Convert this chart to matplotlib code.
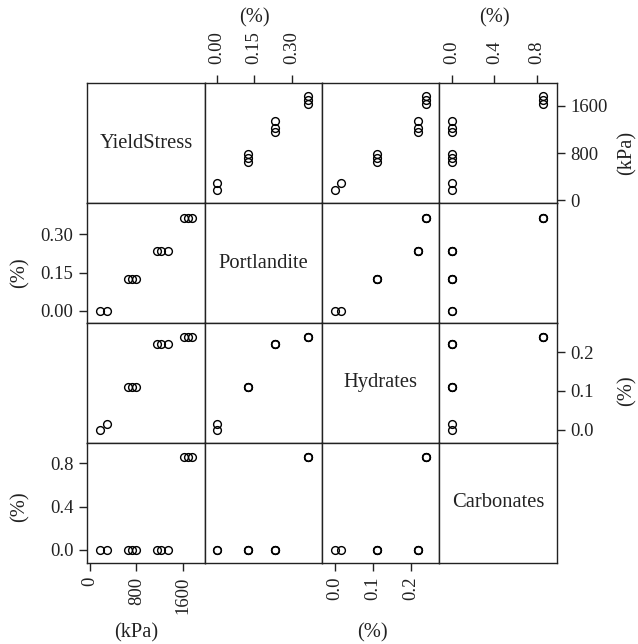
import matplotlib
matplotlib.use("Agg")
import matplotlib.pyplot as plt
from matplotlib.transforms import blended_transform_factory as blend

plt.rcParams['font.family'] = ['Liberation Serif', 'DejaVu Serif']

names = ["YieldStress", "Portlandite", "Hydrates", "Carbonates"]
yield_stress = [170, 290, 650, 720, 790, 1150, 1230, 1345, 1625, 1690, 1760]
portlandite = [0, 0, 0.125, 0.125, 0.125, 0.235, 0.235, 0.235, 0.365, 0.365, 0.365]
hydrates = [0, 0.015, 0.11, 0.11, 0.11, 0.22, 0.22, 0.22, 0.24, 0.24, 0.24]
carbonates = [0, 0, 0, 0, 0, 0, 0, 0, 0.86, 0.86, 0.86]
data = [yield_stress, portlandite, hydrates, carbonates]

limits = [(-45, 1980), (-0.048, 0.422), (-0.034, 0.275), (-0.12, 0.99)]
ticks = [[0, 800, 1600], [0.0, 0.15, 0.30], [0.0, 0.1, 0.2], [0.0, 0.4, 0.8]]
ticklabels = [["0", "800", "1600"], ["0.00", "0.15", "0.30"],
              ["0.0", "0.1", "0.2"], ["0.0", "0.4", "0.8"]]
units = ["(kPa)", "(%)", "(%)", "(%)"]

col = "#222222"
fig = plt.figure(figsize=(6.38, 6.44), dpi=100)
gs = fig.add_gridspec(4, 4, left=0.1368, right=0.8726, top=0.8707, bottom=0.1262,
                      hspace=0, wspace=0)

axes = [[fig.add_subplot(gs[i, j]) for j in range(4)] for i in range(4)]

for i in range(4):
    for j in range(4):
        ax = axes[i][j]
        ax.set_xlim(limits[j])
        ax.set_ylim(limits[i])
        ax.set_xticks([])
        ax.set_yticks([])
        for s in ax.spines.values():
            s.set_linewidth(1.0)
            s.set_color(col)
        if i == j:
            ax.text(0.5, 0.5, names[i], transform=ax.transAxes, ha="center",
                    va="center", fontsize=14.8, color=col)
        else:
            ax.plot(data[j], data[i], "o", mfc="none", mec="black",
                    ms=5.6, mew=1.0, ls="none")

tick_kw = dict(length=6, width=1.0, color=col, labelsize=13.5, labelcolor=col)

# top axes (cols 1, 3)
for j in (1, 3):
    ax = axes[0][j]
    ax.xaxis.tick_top()
    ax.set_xticks(ticks[j])
    ax.set_xticklabels(ticklabels[j], rotation=90)
    ax.tick_params(axis="x", pad=8, **tick_kw)
    ax.text(sum(ticks[j]) / 3, 0.9716, units[j], transform=blend(ax.transData, fig.transFigure),
            ha="center", va="center", fontsize=14.8, color=col)

# bottom axes (cols 0, 2)
for j in (0, 2):
    ax = axes[3][j]
    ax.set_xticks(ticks[j])
    ax.set_xticklabels(ticklabels[j], rotation=90)
    ax.tick_params(axis="x", pad=4, **tick_kw)
    ax.text(sum(ticks[j]) / 3, 0.0171, units[j], transform=blend(ax.transData, fig.transFigure),
            ha="center", va="center", fontsize=14.8, color=col)

# left axes (rows 1, 3)
for i in (1, 3):
    ax = axes[i][0]
    ax.set_yticks(ticks[i])
    ax.set_yticklabels(ticklabels[i])
    ax.tick_params(axis="y", pad=4, **tick_kw)
    ax.text(0.0313, sum(ticks[i]) / 3, units[i], transform=blend(fig.transFigure, ax.transData),
            ha="center", va="center", rotation=90, fontsize=14.8, color=col)

# right axes (rows 0, 2)
for i in (0, 2):
    ax = axes[i][3]
    ax.yaxis.tick_right()
    ax.set_yticks(ticks[i])
    ax.set_yticklabels(ticklabels[i])
    ax.tick_params(axis="y", pad=4, **tick_kw)
    ax.text(0.9823, sum(ticks[i]) / 3, units[i], transform=blend(fig.transFigure, ax.transData),
            ha="center", va="center", rotation=90, fontsize=14.8, color=col)

fig.savefig("out.png", dpi=100)
